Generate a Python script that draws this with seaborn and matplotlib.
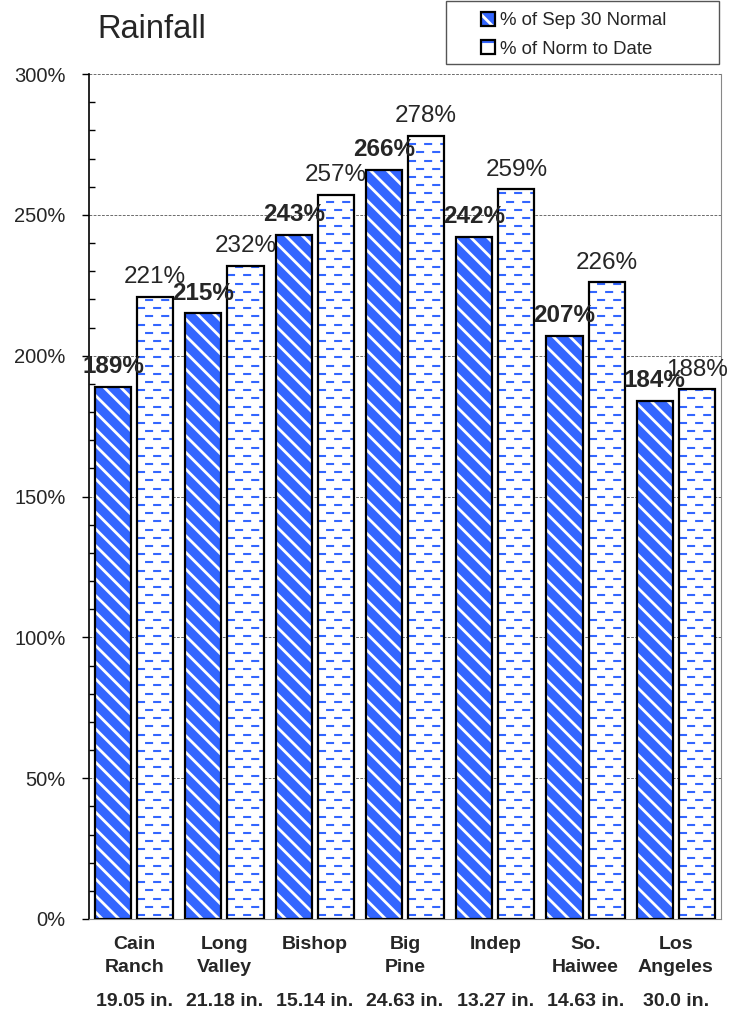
import numpy as np
import pandas as pd
import seaborn as sns
import matplotlib.pyplot as plt
from matplotlib.patches import Patch, Rectangle
from matplotlib.ticker import MultipleLocator, PercentFormatter

# data
stations = ["Cain\nRanch", "Long\nValley", "Bishop", "Big\nPine", "Indep", "So.\nHaiwee", "Los\nAngeles"]
normal_inches = ["19.05 in.", "21.18 in.", "15.14 in.", "24.63 in.", "13.27 in.", "14.63 in.", "30.0 in."]
pct_sep30 = [189, 215, 243, 266, 242, 207, 184]
pct_to_date = [221, 232, 257, 278, 259, 226, 188]
series_names = ["% of Sep 30 Normal", "% of Norm to Date"]

BLUE = "#3366ff"

sns.set_theme(style="white")
plt.rcParams["font.family"] = ["Liberation Sans", "DejaVu Sans"]
plt.rcParams["hatch.linewidth"] = 2.0
plt.rcParams["lines.scale_dashes"] = False

df = pd.DataFrame({
    "station": stations * 2,
    "value": pct_sep30 + pct_to_date,
    "series": [series_names[0]] * len(stations) + [series_names[1]] * len(stations),
})

fig = plt.figure(figsize=(7.46, 10.15), dpi=100)
ax = fig.add_axes([89 / 746, 1 - 919 / 1015, (721 - 89) / 746, (919 - 74) / 1015])

# filled bars with hatching
sns.barplot(data=df, x="station", y="value", hue="series", hue_order=series_names,
            palette=[BLUE, "white"], width=0.933, gap=0.143, legend=False, ax=ax)
for p in ax.containers[0]:
    p.set_facecolor(BLUE)
    p.set_edgecolor("white")
    p.set_hatch("\\\\")
    p.set_linewidth(0)
for p in ax.containers[1]:
    p.set_facecolor("white")
    p.set_linewidth(0)

# dashed texture for the second series
px_per_unit = (919 - 74) / 300
step = 8.2 / px_per_unit
dash = 5.8
for p in ax.containers[1]:
    x0, w, h = p.get_x(), p.get_width(), p.get_height()
    rows = np.arange(step / 2, h, step)
    for i, off in enumerate([0, dash]):
        lc = ax.hlines(rows[i::2], x0, x0 + w, colors=BLUE, linewidth=1.5,
                       linestyles=[(off, (dash, dash))], zorder=2.5)
        lc.set_clip_path(p)

# black outlines on top
sns.barplot(data=df, x="station", y="value", hue="series", hue_order=series_names,
            palette=["black", "black"], fill=False, linewidth=1.6,
            width=0.933, gap=0.143, legend=False, ax=ax)
for c in ax.containers[2:]:
    for p in c:
        p.set_zorder(3)

# value labels
for cont, weight in [(ax.containers[0], "bold"), (ax.containers[1], "normal")]:
    for p in cont:
        ax.annotate(f"{p.get_height():.0f}%", (p.get_x() + p.get_width() / 2, p.get_height()),
                    xytext=(0, 10), textcoords="offset points", ha="center", va="baseline",
                    fontsize=17.5, fontweight=weight, zorder=5, annotation_clip=False)

ax.set_ylim(0, 300)
ax.set_xlim(-0.5, len(stations) - 0.5)
ax.yaxis.set_major_locator(MultipleLocator(50))
ax.yaxis.set_minor_locator(MultipleLocator(10))
ax.yaxis.set_major_formatter(PercentFormatter(xmax=100, decimals=0))
ax.tick_params(axis="y", which="major", direction="out", length=5, width=1, color="black",
               pad=12, labelsize=14.5, left=True)
ax.tick_params(axis="y", which="minor", direction="in", length=4.3, width=1, color="black", left=True)
ax.tick_params(axis="x", length=0, pad=12, labelsize=14)
for lab in ax.get_xticklabels():
    lab.set_fontweight("bold")
    lab.set_linespacing(1.45)
ax.set_xlabel("")
ax.set_ylabel("")
ax.set_axisbelow(True)
ax.yaxis.grid(True, linestyle=(0, (2, 1)), linewidth=0.6, color="#555555")

ax.spines["top"].set_visible(False)
ax.spines["left"].set_color("black")
ax.spines["left"].set_linewidth(1.2)
ax.spines["right"].set_color("#888888")
ax.spines["right"].set_linewidth(0.8)
ax.spines["bottom"].set_color("#888888")
ax.spines["bottom"].set_linewidth(0.8)

# normal-rainfall row under the station names
for i, s in enumerate(normal_inches):
    ax.text(i, -0.098, s, transform=ax.get_xaxis_transform(), ha="center", va="center",
            fontsize=14, fontweight="bold")

fig.text(152 / 746, 1 - 30 / 1015, "Rainfall", ha="center", va="center", fontsize=23.5)

# legend
h1 = (Patch(facecolor=BLUE, edgecolor="white", hatch="\\\\", linewidth=0),
      Patch(fill=False, edgecolor="black", linewidth=1.6))
h2 = (Patch(facecolor="white", edgecolor=BLUE, hatch="-", linewidth=0),
      Patch(fill=False, edgecolor="black", linewidth=1.6))
fig.legend([h1, h2], series_names, loc="upper left", bbox_to_anchor=(481 / 746, 1 - 12 / 1015),
           frameon=False, fontsize=13.4, handlelength=0.75, handleheight=0.75,
           handletextpad=0.25, labelspacing=0.6, borderpad=0, borderaxespad=0)
fig.patches.append(Rectangle((446 / 746, 1 - 64 / 1015), 273 / 746, 63 / 1015,
                             transform=fig.transFigure, fill=False, edgecolor="#555555",
                             linewidth=1.0))

fig.savefig("out.png", dpi=100)
